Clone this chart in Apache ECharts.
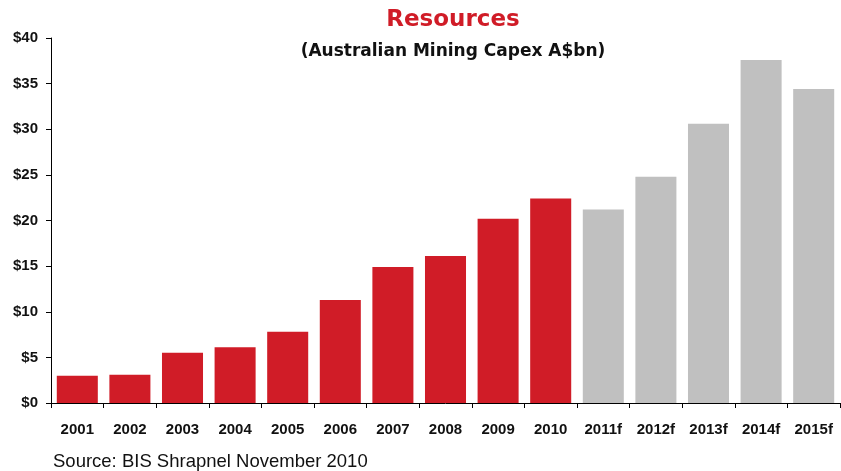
<!DOCTYPE html>
<html><head><meta charset="utf-8">
<script src="https://cdn.jsdelivr.net/npm/echarts@6/dist/echarts.min.js"></script>
<style>html,body{margin:0;padding:0;background:#fff}#c{width:841px;height:471px}</style>
</head><body><div id="c"></div>
<script>
const categories = ['2001','2002','2003','2004','2005','2006','2007','2008','2009','2010','2011f','2012f','2013f','2014f','2015f'];
const capex = [3.0,3.1,5.5,6.1,7.8,11.3,14.9,16.1,20.2,22.4,21.2,24.8,30.6,37.6,34.4];
const yTicks = [0,5,10,15,20,25,30,35,40];

const chart = echarts.init(document.getElementById('c'), null, {renderer:'canvas'});
chart.setOption({
  animation:false,
  backgroundColor:'#fff',
  title:[
    {text:'Resources', left:448, top:4, textAlign:'center',
     textStyle:{color:'#D01C27', fontFamily:'DejaVu Sans', fontWeight:'bold', fontSize:23}},
    {text:'(Australian Mining Capex A$bn)', left:448, top:38, textAlign:'center',
     textStyle:{color:'#111', fontFamily:'DejaVu Sans', fontWeight:'bold', fontSize:17}},
    {text:'Source: BIS Shrapnel November 2010', left:48, top:447,
     textStyle:{color:'#111', fontFamily:'Liberation Sans', fontWeight:'normal', fontSize:18.5}}
  ],
  grid:{left:51, right:1, top:38, bottom:68, containLabel:false},
  xAxis:{type:'category', data:categories,
    axisLine:{lineStyle:{color:'#000', width:1}},
    axisTick:{show:true, alignWithLabel:false, length:5, lineStyle:{color:'#000'}},
    axisLabel:{color:'#111', fontFamily:'Liberation Sans', fontWeight:'bold', fontSize:15, margin:19}},
  yAxis:{type:'value', min:yTicks[0], max:yTicks[yTicks.length-1], interval:5,
    axisLine:{show:true, lineStyle:{color:'#000'}},
    axisTick:{show:true, length:5, lineStyle:{color:'#000'}},
    splitLine:{show:false},
    axisLabel:{color:'#111', fontFamily:'Liberation Sans', fontWeight:'bold', fontSize:15, margin:13,
      formatter:v=>'$'+v}},
  series:[{type:'bar', barCategoryGap:'22%',
    data:capex.map((v,i)=>({value:v, itemStyle:{color: categories[i].endsWith('f') ? '#C0C0C0' : '#D01C27'}}))}]
});
</script></body></html>
